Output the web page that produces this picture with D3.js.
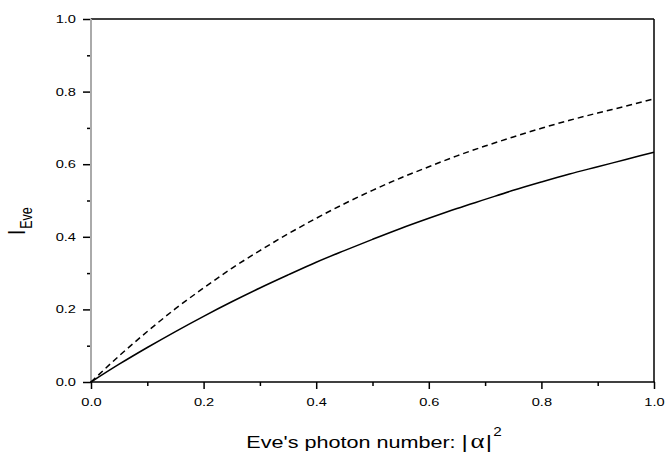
<!DOCTYPE html>
<html><head><meta charset="utf-8">
<script src="https://cdn.jsdelivr.net/npm/d3@7"></script>
<style>
html,body{margin:0;padding:0;background:#fff;}
text{font-family:"Liberation Sans",Arial,sans-serif;fill:#000;}
</style></head>
<body>
<svg id="chart" width="666" height="454"></svg>
<script>
// data
const xValues = [0,0.05,0.1,0.15,0.2,0.25,0.3,0.35,0.4,0.45,0.5,0.55,0.6,0.65,0.7,0.75,0.8,0.85,0.9,0.95,1.0];
const solidValues = [0,0.049,0.095,0.139,0.181,0.221,0.259,0.295,0.330,0.362,0.393,0.423,0.451,0.478,0.503,0.528,0.551,0.573,0.593,0.613,0.633];
const dashedValues = [0,0.072,0.139,0.202,0.259,0.313,0.362,0.408,0.451,0.491,0.528,0.562,0.593,0.623,0.650,0.675,0.699,0.721,0.741,0.760,0.780];
const majorTicks = [0,0.2,0.4,0.6,0.8,1.0];
const minorTicks = [0.1,0.3,0.5,0.7,0.9];
const xTitle = "Eve's photon number: ";
const yTitleMain = "I";
const yTitleSub = "Eve";

const svg = d3.select("#chart");
const L=91, R=654, T=19, B=382;
const x = d3.scaleLinear().domain([0,1]).range([L,R]);
const y = d3.scaleLinear().domain([0,1]).range([B,T]);
const SX = 1.33;

// axes
const gx = svg.append("g").attr("transform",`translate(0,${B})`)
  .call(d3.axisBottom(x).tickValues(majorTicks).tickSize(7).tickFormat(d3.format(".1f")));
svg.append("g").attr("transform",`translate(0,${B})`)
  .call(d3.axisBottom(x).tickValues(minorTicks).tickSize(4).tickFormat(""));
const gy = svg.append("g").attr("transform",`translate(${L},0)`)
  .call(d3.axisLeft(y).tickValues(majorTicks).tickSize(8).tickFormat(d3.format(".1f")));
svg.append("g").attr("transform",`translate(${L},0)`)
  .call(d3.axisLeft(y).tickValues(minorTicks).tickSize(4).tickFormat(""));
svg.selectAll(".domain").remove();
svg.selectAll(".tick line").attr("stroke","#000").attr("stroke-width",1.5);
svg.selectAll(".tick text").attr("font-size",11).style("font-family","'Liberation Sans',Arial,sans-serif").attr("fill","#222");
gx.selectAll(".tick text").attr("y",16).attr("transform",`scale(${SX},1)`);
gy.selectAll(".tick text").attr("x",-11.3).attr("transform",`scale(${SX},1)`);

// frame
svg.append("line").attr("x1",L).attr("x2",R).attr("y1",T).attr("y2",T).attr("stroke","#000").attr("stroke-width",1.5);
svg.append("line").attr("x1",R).attr("x2",R).attr("y1",T).attr("y2",B).attr("stroke","#000").attr("stroke-width",1.5);
svg.append("line").attr("x1",L).attr("x2",L).attr("y1",T).attr("y2",B).attr("stroke","#aaa").attr("stroke-width",2);
svg.append("line").attr("x1",L-1).attr("x2",R+0.75).attr("y1",B).attr("y2",B).attr("stroke","#000").attr("stroke-width",1.5);

// curves
const line = d3.line().x((d,i)=>x(xValues[i])).y(d=>y(d)).curve(d3.curveMonotoneX);
svg.append("path").datum(solidValues).attr("d",line).attr("fill","none").attr("stroke","#000").attr("stroke-width",1.5);
svg.append("path").datum(dashedValues).attr("d",line).attr("fill","none").attr("stroke","#000").attr("stroke-width",1.5).attr("stroke-dasharray","6,4");

// x title
const xt = svg.append("g").attr("transform",`translate(374,448) scale(1.27,1)`)
  .append("text").attr("text-anchor","middle").attr("font-size",17);
xt.append("tspan").text(xTitle);
xt.append("tspan").attr("font-size",19).attr("font-weight",300).text("|");
xt.append("tspan").attr("font-size",21).attr("dx",2).style("font-family","'Liberation Serif','DejaVu Serif',serif").text("α");
xt.append("tspan").attr("font-size",19).attr("dx",1).text("|");
xt.append("tspan").attr("font-size",12).attr("dy",-12).attr("dx",1).text("2");

// y title
const yt = svg.append("g").attr("transform",`translate(25,235) scale(1.3,1) rotate(-90)`)
  .append("text").attr("font-size",19);
yt.append("tspan").text(yTitleMain);
yt.append("tspan").attr("font-size",12.5).attr("dy",5).attr("dx",1).text(yTitleSub);
</script>
</body></html>
